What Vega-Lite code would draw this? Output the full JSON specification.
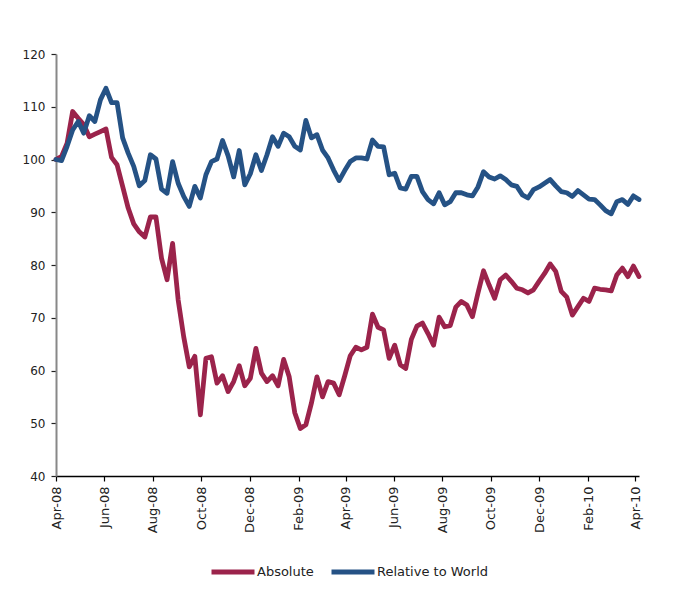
{
  "$schema": "https://vega.github.io/schema/vega-lite/v6.json",
  "width": 583,
  "height": 422,
  "autosize": "none",
  "padding": {"left": 56, "top": 54, "right": 34, "bottom": 123},
  "background": "white",
  "config": {"view": {"stroke": null}},
  "data": {"values": [
    {"date":"2008-04-01","Absolute":100.0,"Relative to World":100.0},
    {"date":"2008-04-08","Absolute":100.6,"Relative to World":99.8},
    {"date":"2008-04-15","Absolute":103.1,"Relative to World":102.5},
    {"date":"2008-04-22","Absolute":109.1,"Relative to World":105.6},
    {"date":"2008-04-29","Absolute":107.8,"Relative to World":107.2},
    {"date":"2008-05-06","Absolute":106.6,"Relative to World":105.0},
    {"date":"2008-05-13","Absolute":104.3,"Relative to World":108.3},
    {"date":"2008-05-20","Absolute":104.8,"Relative to World":107.2},
    {"date":"2008-05-27","Absolute":105.3,"Relative to World":111.3},
    {"date":"2008-06-03","Absolute":105.8,"Relative to World":113.5},
    {"date":"2008-06-10","Absolute":100.4,"Relative to World":110.8},
    {"date":"2008-06-17","Absolute":99.0,"Relative to World":110.8},
    {"date":"2008-06-24","Absolute":94.9,"Relative to World":104.1},
    {"date":"2008-07-01","Absolute":90.8,"Relative to World":101.2},
    {"date":"2008-07-08","Absolute":87.8,"Relative to World":98.7},
    {"date":"2008-07-15","Absolute":86.3,"Relative to World":95.0},
    {"date":"2008-07-22","Absolute":85.3,"Relative to World":96.0},
    {"date":"2008-07-29","Absolute":89.1,"Relative to World":100.9},
    {"date":"2008-08-05","Absolute":89.1,"Relative to World":100.1},
    {"date":"2008-08-12","Absolute":81.3,"Relative to World":94.4},
    {"date":"2008-08-19","Absolute":77.2,"Relative to World":93.6},
    {"date":"2008-08-26","Absolute":84.1,"Relative to World":99.6},
    {"date":"2008-09-02","Absolute":73.4,"Relative to World":95.5},
    {"date":"2008-09-09","Absolute":66.4,"Relative to World":93.0},
    {"date":"2008-09-16","Absolute":60.7,"Relative to World":91.1},
    {"date":"2008-09-23","Absolute":62.7,"Relative to World":94.9},
    {"date":"2008-09-30","Absolute":51.6,"Relative to World":92.7},
    {"date":"2008-10-07","Absolute":62.3,"Relative to World":97.1},
    {"date":"2008-10-14","Absolute":62.6,"Relative to World":99.6},
    {"date":"2008-10-21","Absolute":57.6,"Relative to World":100.1},
    {"date":"2008-10-28","Absolute":59.0,"Relative to World":103.6},
    {"date":"2008-11-04","Absolute":56.0,"Relative to World":100.7},
    {"date":"2008-11-11","Absolute":57.9,"Relative to World":96.7},
    {"date":"2008-11-18","Absolute":60.9,"Relative to World":101.7},
    {"date":"2008-11-25","Absolute":57.1,"Relative to World":95.2},
    {"date":"2008-12-02","Absolute":58.5,"Relative to World":97.3},
    {"date":"2008-12-09","Absolute":64.2,"Relative to World":100.9},
    {"date":"2008-12-16","Absolute":59.5,"Relative to World":97.9},
    {"date":"2008-12-23","Absolute":57.9,"Relative to World":100.9},
    {"date":"2008-12-30","Absolute":59.0,"Relative to World":104.3},
    {"date":"2009-01-06","Absolute":57.1,"Relative to World":102.5},
    {"date":"2009-01-13","Absolute":62.1,"Relative to World":105.0},
    {"date":"2009-01-20","Absolute":58.8,"Relative to World":104.3},
    {"date":"2009-01-27","Absolute":52.0,"Relative to World":102.5},
    {"date":"2009-02-03","Absolute":49.0,"Relative to World":101.8},
    {"date":"2009-02-10","Absolute":49.7,"Relative to World":107.4},
    {"date":"2009-02-17","Absolute":53.8,"Relative to World":104.1},
    {"date":"2009-02-24","Absolute":58.8,"Relative to World":104.7},
    {"date":"2009-03-03","Absolute":55.0,"Relative to World":101.8},
    {"date":"2009-03-10","Absolute":57.9,"Relative to World":100.3},
    {"date":"2009-03-17","Absolute":57.6,"Relative to World":98.0},
    {"date":"2009-03-24","Absolute":55.4,"Relative to World":96.0},
    {"date":"2009-03-31","Absolute":59.0,"Relative to World":97.9},
    {"date":"2009-04-07","Absolute":62.8,"Relative to World":99.6},
    {"date":"2009-04-14","Absolute":64.4,"Relative to World":100.3},
    {"date":"2009-04-21","Absolute":63.9,"Relative to World":100.3},
    {"date":"2009-04-28","Absolute":64.4,"Relative to World":100.1},
    {"date":"2009-05-05","Absolute":70.7,"Relative to World":103.7},
    {"date":"2009-05-12","Absolute":68.2,"Relative to World":102.5},
    {"date":"2009-05-19","Absolute":67.7,"Relative to World":102.4},
    {"date":"2009-05-26","Absolute":62.3,"Relative to World":97.1},
    {"date":"2009-06-02","Absolute":64.8,"Relative to World":97.4},
    {"date":"2009-06-09","Absolute":61.1,"Relative to World":94.6},
    {"date":"2009-06-16","Absolute":60.4,"Relative to World":94.4},
    {"date":"2009-06-23","Absolute":65.9,"Relative to World":96.8},
    {"date":"2009-06-30","Absolute":68.4,"Relative to World":96.8},
    {"date":"2009-07-07","Absolute":69.0,"Relative to World":93.9},
    {"date":"2009-07-14","Absolute":67.0,"Relative to World":92.4},
    {"date":"2009-07-21","Absolute":64.8,"Relative to World":91.6},
    {"date":"2009-07-28","Absolute":70.1,"Relative to World":93.7},
    {"date":"2009-08-04","Absolute":68.3,"Relative to World":91.4},
    {"date":"2009-08-11","Absolute":68.5,"Relative to World":92.0},
    {"date":"2009-08-18","Absolute":72.0,"Relative to World":93.7},
    {"date":"2009-08-25","Absolute":73.1,"Relative to World":93.7},
    {"date":"2009-09-01","Absolute":72.4,"Relative to World":93.3},
    {"date":"2009-09-08","Absolute":70.2,"Relative to World":93.1},
    {"date":"2009-09-15","Absolute":74.7,"Relative to World":94.8},
    {"date":"2009-09-22","Absolute":78.9,"Relative to World":97.7},
    {"date":"2009-09-29","Absolute":76.2,"Relative to World":96.7},
    {"date":"2009-10-06","Absolute":73.7,"Relative to World":96.3},
    {"date":"2009-10-13","Absolute":77.2,"Relative to World":96.9},
    {"date":"2009-10-20","Absolute":78.1,"Relative to World":96.2},
    {"date":"2009-10-27","Absolute":76.9,"Relative to World":95.2},
    {"date":"2009-11-03","Absolute":75.6,"Relative to World":94.9},
    {"date":"2009-11-10","Absolute":75.3,"Relative to World":93.3},
    {"date":"2009-11-17","Absolute":74.7,"Relative to World":92.7},
    {"date":"2009-11-24","Absolute":75.3,"Relative to World":94.3},
    {"date":"2009-12-01","Absolute":76.9,"Relative to World":94.8},
    {"date":"2009-12-08","Absolute":78.4,"Relative to World":95.5},
    {"date":"2009-12-15","Absolute":80.2,"Relative to World":96.2},
    {"date":"2009-12-22","Absolute":78.8,"Relative to World":95.0},
    {"date":"2009-12-29","Absolute":75.0,"Relative to World":93.9},
    {"date":"2010-01-05","Absolute":73.9,"Relative to World":93.7},
    {"date":"2010-01-12","Absolute":70.5,"Relative to World":93.0},
    {"date":"2010-01-19","Absolute":72.1,"Relative to World":94.1},
    {"date":"2010-01-26","Absolute":73.7,"Relative to World":93.3},
    {"date":"2010-02-02","Absolute":73.1,"Relative to World":92.5},
    {"date":"2010-02-09","Absolute":75.6,"Relative to World":92.4},
    {"date":"2010-02-16","Absolute":75.4,"Relative to World":91.4},
    {"date":"2010-02-23","Absolute":75.3,"Relative to World":90.3},
    {"date":"2010-03-02","Absolute":75.1,"Relative to World":89.7},
    {"date":"2010-03-09","Absolute":78.1,"Relative to World":92.0},
    {"date":"2010-03-16","Absolute":79.4,"Relative to World":92.4},
    {"date":"2010-03-23","Absolute":77.8,"Relative to World":91.5},
    {"date":"2010-03-30","Absolute":79.8,"Relative to World":93.1},
    {"date":"2010-04-06","Absolute":77.8,"Relative to World":92.4}
  ]},
  "transform": [{"fold": ["Absolute", "Relative to World"], "as": ["series", "value"]}],
  "mark": {"type": "line", "strokeWidth": 4.8, "strokeJoin": "round", "strokeCap": "round"},
  "encoding": {
    "x": {
      "field": "date", "type": "temporal",
      "scale": {"type": "utc", "domain": [{"year": 2008, "month": 4, "date": 1, "utc": true}, {"year": 2010, "month": 4, "date": 6, "utc": true}]},
      "axis": {
        "title": null,
        "grid": false,
        "labelExpr": "utcFormat(datum.value, '%b-%y')",
        "values": [
          {"year": 2008, "month": 4, "date": 1, "utc": true},
          {"year": 2008, "month": 6, "date": 1, "utc": true},
          {"year": 2008, "month": 8, "date": 1, "utc": true},
          {"year": 2008, "month": 10, "date": 1, "utc": true},
          {"year": 2008, "month": 12, "date": 1, "utc": true},
          {"year": 2009, "month": 2, "date": 1, "utc": true},
          {"year": 2009, "month": 4, "date": 1, "utc": true},
          {"year": 2009, "month": 6, "date": 1, "utc": true},
          {"year": 2009, "month": 8, "date": 1, "utc": true},
          {"year": 2009, "month": 10, "date": 1, "utc": true},
          {"year": 2009, "month": 12, "date": 1, "utc": true},
          {"year": 2010, "month": 2, "date": 1, "utc": true},
          {"year": 2010, "month": 4, "date": 1, "utc": true}
        ],
        "labelAngle": -90,
        "labelFont": "DejaVu Sans",
        "labelFontSize": 13,
        "labelColor": "#222222",
        "labelPadding": 5,
        "labelFlush": false,
        "labelOverlap": false,
        "domainColor": "#000000",
        "domainWidth": 1.5,
        "tickColor": "#000000",
        "tickSize": 5,
        "tickWidth": 1.2
      }
    },
    "y": {
      "field": "value", "type": "quantitative",
      "scale": {"domain": [40, 120], "nice": false, "zero": false},
      "axis": {
        "title": null,
        "grid": false,
        "values": [40, 50, 60, 70, 80, 90, 100, 110, 120],
        "labelFont": "DejaVu Sans",
        "labelFontSize": 12,
        "labelColor": "#222222",
        "labelPadding": 6,
        "domainColor": "#888888",
        "domainWidth": 2,
        "tickColor": "#222222",
        "tickSize": 5,
        "tickWidth": 1.2
      }
    },
    "color": {
      "field": "series", "type": "nominal",
      "scale": {"domain": ["Absolute", "Relative to World"], "range": ["#9B234B", "#255285"]},
      "legend": {
        "title": null,
        "orient": "none",
        "direction": "horizontal",
        "legendX": 153,
        "legendY": 494,
        "padding": 0,
        "symbolType": "stroke",
        "symbolSize": 1849,
        "symbolStrokeWidth": 5,
        "labelFont": "DejaVu Sans",
        "labelFontSize": 13,
        "labelColor": "#222222",
        "labelOffset": 0,
        "columnPadding": 7
      }
    }
  }
}
